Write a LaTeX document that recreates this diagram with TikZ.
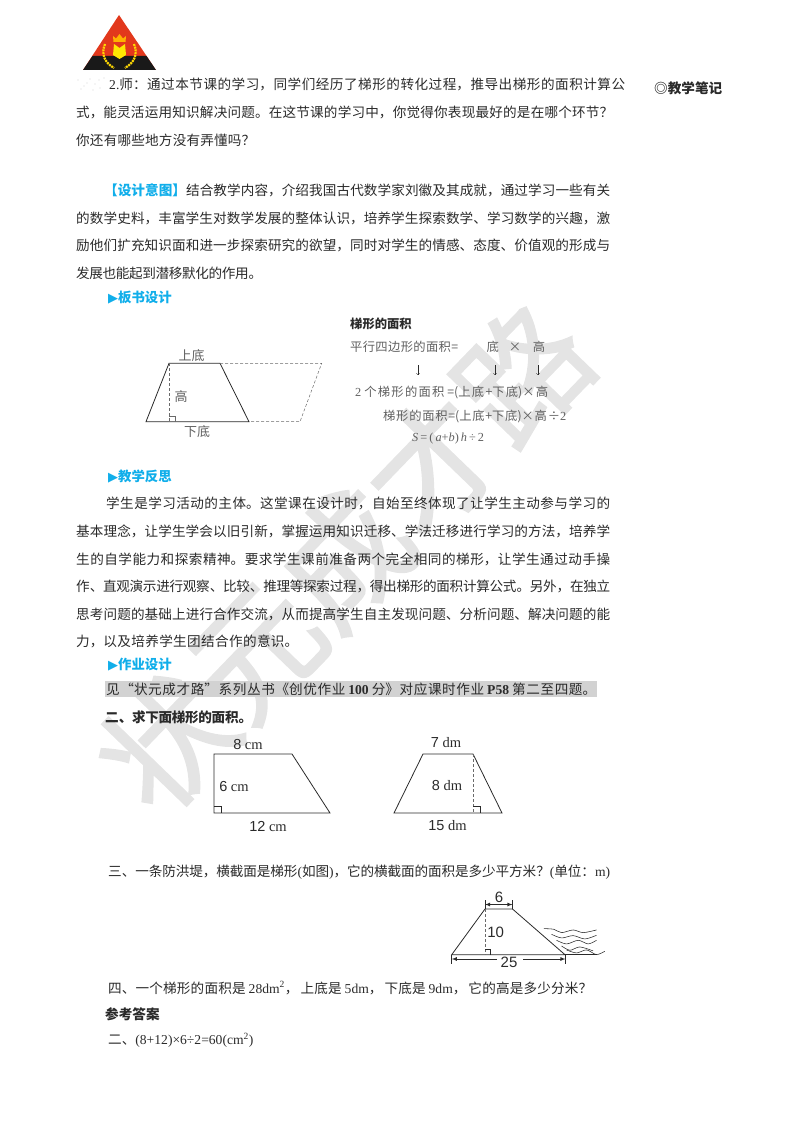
\documentclass[tikz,border=0pt]{standalone}
\usepackage{fontspec}
\setmainfont{Liberation Serif}
\newfontfamily\cjk{Noto Sans CJK SC}
\newfontfamily\markf[RawFeature={embolden=1.5}]{Noto Sans CJK SC}
\newfontfamily\symf{DejaVu Sans}
\newfontfamily\numf{Liberation Sans}
\usetikzlibrary{positioning,calc,arrows}
\XeTeXlinebreaklocale "zh"
\XeTeXlinebreakskip=0pt plus 3pt minus 0.5pt
\definecolor{inkc}{HTML}{2A2A2A}
\definecolor{bluec}{HTML}{10AEEA}
\definecolor{markc}{HTML}{E4E4E4}
\definecolor{hlc}{HTML}{D2D2D2}
\definecolor{logor}{HTML}{E2381C}
\newcommand{\fitl}[2]{\parbox{#1pt}{\parfillskip=0pt\noindent #2}}
\newcommand{\la}[1]{{\rmfamily #1}}
\newcommand{\dou}{^^^^ff0c}
\newcommand{\wen}{^^^^ff1f}
\newcommand{\mao}{^^^^ff1a}
\newcommand{\bh}[1]{{\color{bluec}\symf\fontsize{13}{15}\selectfont\char"25B6\cjk\bfseries\fontsize{13.4}{16}\selectfont #1}}
\begin{document}
\begin{tikzpicture}[x=1pt,y=-1pt,
txt/.style={anchor=west,inner sep=0pt,text=inkc,font=\cjk\fontsize{13.6}{16}\selectfont},
btxt/.style={txt,font=\cjk\bfseries\fontsize{13.6}{16}\selectfont},
small/.style={txt,text=inkc!75,font=\cjk\fontsize{12.3}{14}\selectfont},
brd/.style={small,anchor=center,font=\cjk\fontsize{13}{15}\selectfont},
lab/.style={inner sep=0pt,text=inkc,font=\fontsize{14.5}{16}\selectfont},
dim/.style={lab,font=\numf\fontsize{15}{17}\selectfont},
fig/.style={inkc,line width=0.8pt},
hgt/.style={inkc!70,line width=0.5pt,densely dashed},
thin/.style={inkc,line width=0.5pt}]
\useasboundingbox (0,0) rectangle (800,1132);

\node[rotate=46,text=markc,font=\markf\fontsize{128}{130}\selectfont,inner sep=0pt] (mark) at (345,558) {状元成才路};

\fill[logor] (119,15) -- (156,70) -- (83,70) -- cycle;
\fill[black!90] (92.5,56) -- (146.5,56) -- (156,70) -- (83,70) -- cycle;
\fill[yellow!90!orange] (114,44) -- (119.5,48) -- (125,44) -- (126,55) -- (119.5,59) -- (113,55) -- cycle;
\fill[orange!60!yellow] (113.5,42) -- (113,36) -- (116,38.5) -- (119.5,34) -- (123,38.5) -- (126,36) -- (125.5,42) -- cycle;
\draw[yellow!75!orange,line width=2.2pt,dash pattern=on 2pt off 0.8pt] (105,44) .. controls (101,54) and (104,62) .. (114,68);
\draw[yellow!75!orange,line width=2.2pt,dash pattern=on 2pt off 0.8pt] (134,44) .. controls (138,54) and (135,62) .. (125,68);
\foreach \X/\Y in {78/80,84/86,90/79,95/84,100/88,81/89,93/90,104/78,87/83,99/80}
{\fill[gray!35] (\X,\Y) circle (0.7pt);
}

\node[txt] (a1) at (109,84) {\fitl{516}{\la{2.}师\mao{}通过本节课的学习\dou{}同学们经历了梯形的转化过程\dou{}推导出梯形的面积计算公}};
\node[txt] (a2) at (76,112) {\fitl{537}{式\dou{}能灵活运用知识解决问题。在这节课的学习中\dou{}你觉得你表现最好的是在哪个环节\wen{}}};
\node[txt] (a3) at (76,140) {\fitl{179}{你还有哪些地方没有弄懂吗\wen{}}};
\node[btxt] (note) at (654,88) {◎教学笔记};

\node[txt] (b1) at (104,190) {\fitl{506}{{\color{bluec}\bfseries 【设计意图】}结合教学内容\dou{}介绍我国古代数学家刘徽及其成就\dou{}通过学习一些有关}};
\node[txt] (b2) at (76,218) {\fitl{534}{的数学史料\dou{}丰富学生对数学发展的整体认识\dou{}培养学生探索数学、学习数学的兴趣\dou{}激}};
\node[txt] (b3) at (76,245) {\fitl{534}{励他们扩充知识面和进一步探索研究的欲望\dou{}同时对学生的情感、态度、价值观的形成与}};
\node[txt] (b4) at (76,273) {\fitl{186}{发展也能起到潜移默化的作用。}};

\node[txt] (h1) at (108,298) {\bh{板书设计}};

\coordinate (t1) at (169,363.3);
\coordinate (t2) at (220,363.3);
\coordinate (t3) at (249,421.7);
\coordinate (t4) at (146,421.7);
\coordinate (t5) at (321.7,363.3);
\coordinate (t6) at (300,421.7);
\draw[fig] (t1) -- (t2) -- (t3) -- (t4) -- cycle;
\draw[hgt] (t2) -- (t5) -- (t6) -- (t3);
\draw[hgt] (t1) -- (t1 |- t4);
\draw[inkc!70,line width=0.4pt] (169,415.7) -| (175,421.7);
\node[brd] (shang) at (191.5,355.5) {上底};
\node[brd] (gao) at (181,397) {高};
\node[brd] (xia) at (197,432) {下底};

\node[btxt,font=\cjk\bfseries\fontsize{12.3}{14}\selectfont] (c0) at (350,324) {梯形的面积};
\node[small] (c1) at (350,347) {\fitl{108}{平行四边形的面积=}};
\node[small,anchor=center] (c1a) at (492.7,347) {底};
\node[small,anchor=center] (c1b) at (515,347) {×};
\node[small,anchor=center] (c1c) at (539,347) {高};
\foreach \T/\X in {1/418,2/495,3/538}
{\coordinate (u\T) at (\X,365);
 \coordinate (d\T) at (\X,375);
 \draw[inkc,line width=0.4pt,->] (u\T) -- (d\T);
}
\node[small] (c2) at (355,393) {\fitl{193}{\la{2}\hspace{3pt}个梯形的面积\hspace{3pt}=(上底+下底)×高}};
\node[small] (c3) at (383,417) {\fitl{183}{梯形的面积=(上底+下底)×高÷\la{2}}};
\node[small,font=\fontsize{12.3}{14}\selectfont] (c4) at (412,439) {\textit{S}\,=\,(\,\textit{a}+\textit{b})\,\textit{h}\,÷\,2};

\node[txt] (h2) at (108,476) {\bh{教学反思}};
\node[txt] (d1) at (106,503) {\fitl{504}{学生是学习活动的主体。这堂课在设计时\dou{}自始至终体现了让学生主动参与学习的}};
\node[txt] (d2) at (76,531) {\fitl{534}{基本理念\dou{}让学生学会以旧引新\dou{}掌握运用知识迁移、学法迁移进行学习的方法\dou{}培养学}};
\node[txt] (d3) at (76,559) {\fitl{534}{生的自学能力和探索精神。要求学生课前准备两个完全相同的梯形\dou{}让学生通过动手操}};
\node[txt] (d4) at (76,586) {\fitl{534}{作、直观演示进行观察、比较、推理等探索过程\dou{}得出梯形的面积计算公式。另外\dou{}在独立}};
\node[txt] (d5) at (76,614) {\fitl{534}{思考问题的基础上进行合作交流\dou{}从而提高学生自主发现问题、分析问题、解决问题的能}};
\node[txt] (d6) at (76,641) {\fitl{222}{力\dou{}以及培养学生团结合作的意识。}};

\node[txt] (h3) at (108,665) {\bh{作业设计}};
\fill[hlc] (105,681) rectangle (597,697);
\node[txt] (e1) at (106,689) {\fitl{490}{见“状元成才路”系列丛书《创优作业\hspace{3pt}\la{\bfseries 100}\hspace{3pt}分》对应课时作业\hspace{3pt}\la{\bfseries P58}\hspace{3pt}第二至四题。}};
\node[btxt] (e2) at (105,717) {\fitl{147}{二、求下面梯形的面积。}};

\coordinate (p1) at (214,754);
\coordinate (p2) at (292,754);
\coordinate (p3) at (330,813);
\coordinate (p4) at (214,813);
\draw[fig] (p1) -- (p2) -- (p3) -- (p4) -- cycle;
\draw[thin] (214,806) -| (221.5,813);
\node[lab] (p8) at (248,744) {{\numf 8} cm};
\node[lab] (p6) at (234,786) {{\numf 6} cm};
\node[lab] (p12) at (268,826) {{\numf 12} cm};

\coordinate (q1) at (423,754);
\coordinate (q2) at (473,754);
\coordinate (q3) at (502,813);
\coordinate (q4) at (394,813);
\draw[fig] (q1) -- (q2) -- (q3) -- (q4) -- cycle;
\draw[hgt] (q2) -- (q2 |- q4);
\draw[thin] (473,806) -| (480.5,813);
\node[lab] (q7) at (446,743) {{\numf 7} dm};
\node[lab] (q8) at (447,785) {{\numf 8} dm};
\node[lab] (q15) at (447.5,826) {{\numf 15} dm};

\node[txt] (f1) at (108,872) {\fitl{502}{三、一条防洪堤\dou{}横截面是梯形\la{(}如图\la{)}\dou{}它的横截面的面积是多少平方米\wen{}\la{(}单位\mao{}\la{m)}}};

\coordinate (r1) at (485,909);
\coordinate (r2) at (512.5,909);
\coordinate (r3) at (565,954.7);
\coordinate (r4) at (451.7,954.7);
\coordinate (r5) at (596.7,954.7);
\draw[fig] (r1) -- (r2) -- (r3) -- (r4) -- cycle;
\draw[fig] (r3) -- (r5);
\draw[hgt] (r1) -- (r1 |- r4);
\draw[thin] (485,949.7) -| (490,954.7);
\draw[inkc,line width=0.7pt] (485,900) -- (485,909) (512.5,900) -- (512.5,909);
\coordinate (s1) at (485,904.5);
\coordinate (s2) at (512.5,904.5);
\draw[inkc,line width=0.8pt,latex-latex] (s1) -- (s2);
\node[dim] (r6) at (499,897) {6};
\node[dim] (r10) at (495.7,932) {10};
\node[dim] (r25) at (509,962.7) {25};
\coordinate (s3) at (451.7,959);
\coordinate (s4) at (565.5,959);
\coordinate (s5) at (497,959);
\coordinate (s6) at (523,959);
\draw[inkc,line width=0.7pt] (451.7,955) -- (451.7,963.5) (565.5,955) -- (565.5,963.5);
\draw[inkc,line width=0.8pt,-latex] (s5) -- (s3);
\draw[inkc,line width=0.8pt,-latex] (s6) -- (s4);
\begin{scope}[shift={(430,880)},x=0.333pt,y=-0.333pt,inkc,line width=0.55pt]
\draw plot[smooth] coordinates {(342,146) (372,148) (395,158) (430,150) (460,158) (500,150)};
\draw plot[smooth] coordinates {(365,163) (395,174) (430,167) (465,177) (500,166)};
\draw plot[smooth] coordinates {(380,181) (410,192) (445,181) (475,192) (500,181)};
\draw plot[smooth] coordinates {(395,198) (420,211) (450,201) (490,213)};
\draw plot[smooth] coordinates {(410,210) (440,219) (470,210) (500,224) (525,214)};
\end{scope}

\node[txt] (g1) at (108,988) {\fitl{484}{四、一个梯形的面积是\hspace{3pt}\la{28dm\textsuperscript{2}}\dou{}\hspace{2pt}上底是\hspace{3pt}\la{5dm}\dou{}\hspace{2pt}下底是\hspace{3pt}\la{9dm}\dou{}\hspace{2pt}它的高是多少分米\wen{}}};
\node[btxt] (g2) at (105,1014) {参考答案};
\node[txt] (g3) at (108,1040) {二、\la{(8+12)×6÷2=60(cm\textsuperscript{2})}};
\end{tikzpicture}
\end{document}
